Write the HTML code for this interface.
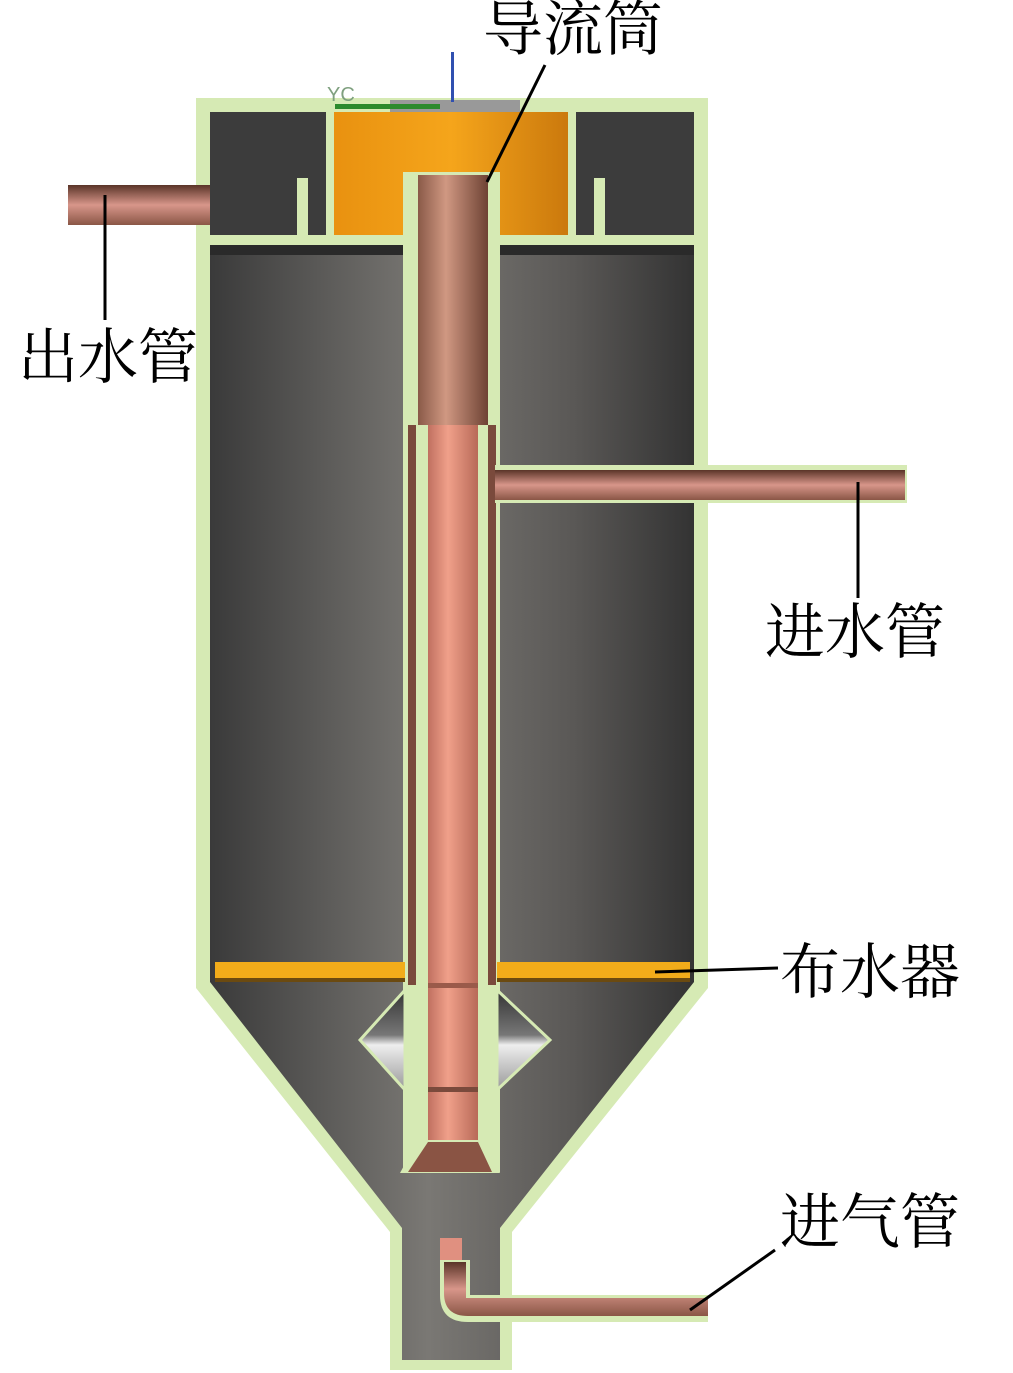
<!DOCTYPE html>
<html><head><meta charset="utf-8"><style>
html,body{margin:0;padding:0;background:#fff;}
svg{display:block;}
text{font-family:"Liberation Serif","Noto Serif CJK SC",serif;font-size:60px;fill:#000;}
</style></head><body>
<svg width="1013" height="1373" viewBox="0 0 1013 1373" xmlns="http://www.w3.org/2000/svg">
<defs>
<linearGradient id="body" x1="0" x2="1" y1="0" y2="0">
<stop offset="0" stop-color="#3a3a3a"/><stop offset="0.45" stop-color="#7a7874"/><stop offset="0.75" stop-color="#5a5856"/><stop offset="1" stop-color="#333"/>
</linearGradient>
<linearGradient id="orange" x1="0" x2="1" y1="0" y2="0">
<stop offset="0" stop-color="#e8900f"/><stop offset="0.5" stop-color="#f5a51b"/><stop offset="1" stop-color="#c8760c"/>
</linearGradient>
<linearGradient id="copper" x1="0" x2="1" y1="0" y2="0">
<stop offset="0" stop-color="#8a5a48"/><stop offset="0.4" stop-color="#d09882"/><stop offset="1" stop-color="#6e4234"/>
</linearGradient>
<linearGradient id="salmon" x1="0" x2="1" y1="0" y2="0">
<stop offset="0" stop-color="#c07060"/><stop offset="0.4" stop-color="#f0a08a"/><stop offset="1" stop-color="#b86a58"/>
</linearGradient>
<linearGradient id="hpipe" x1="0" x2="0" y1="0" y2="1">
<stop offset="0" stop-color="#5a3428"/><stop offset="0.5" stop-color="#d8968a"/><stop offset="1" stop-color="#8a5646"/>
</linearGradient>
<linearGradient id="lens" x1="0" x2="0" y1="0" y2="1">
<stop offset="0" stop-color="#333"/><stop offset="0.45" stop-color="#777"/><stop offset="0.55" stop-color="#eee"/><stop offset="1" stop-color="#999"/>
</linearGradient>
</defs>

<!-- outer green shell -->
<path d="M196 98 H708 V988 L512 1232 V1370 H390 V1232 L196 988 Z" fill="#d6eab4"/>
<!-- inner dark -->
<path d="M210 112 H694 V982 L500 1228 V1360 H402 V1228 L210 982 Z" fill="url(#body)"/>
<!-- top chamber darker -->
<rect x="210" y="112" width="484" height="125" fill="#3c3c3c"/>
<!-- orange cylinder -->
<rect x="326" y="112" width="250" height="128" fill="url(#orange)"/>
<rect x="326" y="98" width="8" height="145" fill="#d6eab4"/>
<rect x="568" y="98" width="8" height="145" fill="#d6eab4"/>
<!-- partition -->
<path d="M210 235 H405 V245 H210 Z M497 235 H694 V245 H497 Z" fill="#d6eab4"/>
<path d="M297 178 H308 V235 H297 Z M594 178 H605 V235 H594 Z" fill="#d6eab4"/>
<rect x="210" y="245" width="484" height="10" fill="#2a2a2a"/>
<!-- top axis marks -->
<rect x="390" y="100" width="130" height="12" fill="#999"/>
<rect x="335" y="104" width="105" height="5" fill="#2c8a2c"/>
<rect x="451" y="52" width="3" height="50" fill="#3050b0"/>
<text x="327" y="101" style="font-family:'Liberation Sans',sans-serif;font-size:20px;fill:#7fa07f">YC</text>
<!-- central duct green -->
<rect x="403" y="172" width="97" height="1000" fill="#d6eab4"/>
<rect x="418" y="175" width="70" height="252" fill="url(#copper)"/>
<!-- jacket -->
<rect x="408" y="425" width="88" height="560" fill="#7a4a3c"/>
<rect x="416" y="425" width="72" height="560" fill="#d6eab4"/>
<rect x="428" y="425" width="50" height="715" fill="url(#salmon)"/>
<rect x="428" y="983" width="50" height="5" fill="#9a5a4a"/>
<rect x="428" y="1087" width="50" height="5" fill="#7a4a3c"/>
<!-- funnel -->
<path d="M418 1140 H488 L500 1173 H400 Z" fill="#d6eab4"/>
<path d="M428 1142 H478 L492 1172 H408 Z" fill="#8a5444"/>
<!-- distributor -->
<rect x="215" y="962" width="190" height="20" fill="#f2ac1a"/>
<rect x="497" y="962" width="193" height="20" fill="#f2ac1a"/>
<rect x="215" y="978" width="190" height="4" fill="#6b4a10"/>
<rect x="497" y="978" width="193" height="4" fill="#6b4a10"/>
<!-- lens -->
<path d="M405 990 L360 1040 L405 1090 Z" fill="url(#lens)" stroke="#d6eab4" stroke-width="3"/>
<path d="M497 990 L550 1040 L497 1090 Z" fill="url(#lens)" stroke="#d6eab4" stroke-width="3"/>
<!-- inlet pipe -->
<rect x="495" y="465" width="412" height="38" fill="#d6eab4"/>
<rect x="495" y="470" width="410" height="30" fill="url(#hpipe)"/>
<!-- outlet pipe -->
<rect x="68" y="185" width="142" height="40" fill="url(#hpipe)"/>
<!-- neck inner -->
<rect x="440" y="1238" width="22" height="28" fill="#e09080"/>
<path d="M440 1260 V1295 Q440 1322 468 1322 H708 V1295 H470 V1260 Z" fill="#d6eab4"/>
<path d="M444 1262 V1293 Q444 1316 468 1316 H708 V1298 H466 V1262 Z" fill="url(#hpipe)"/>
<!-- labels -->
<text x="483" y="50">导流筒</text>
<text x="18" y="378">出水管</text>
<text x="765" y="653">进水管</text>
<text x="780" y="993">布水器</text>
<text x="780" y="1243">进气管</text>
<g stroke="#000" stroke-width="3" fill="none">
<line x1="545" y1="65" x2="487" y2="182"/>
<line x1="105" y1="195" x2="105" y2="320"/>
<line x1="858" y1="482" x2="858" y2="598"/>
<line x1="655" y1="972" x2="778" y2="968"/>
<line x1="690" y1="1310" x2="775" y2="1250"/>
</g>
</svg>
</body></html>
